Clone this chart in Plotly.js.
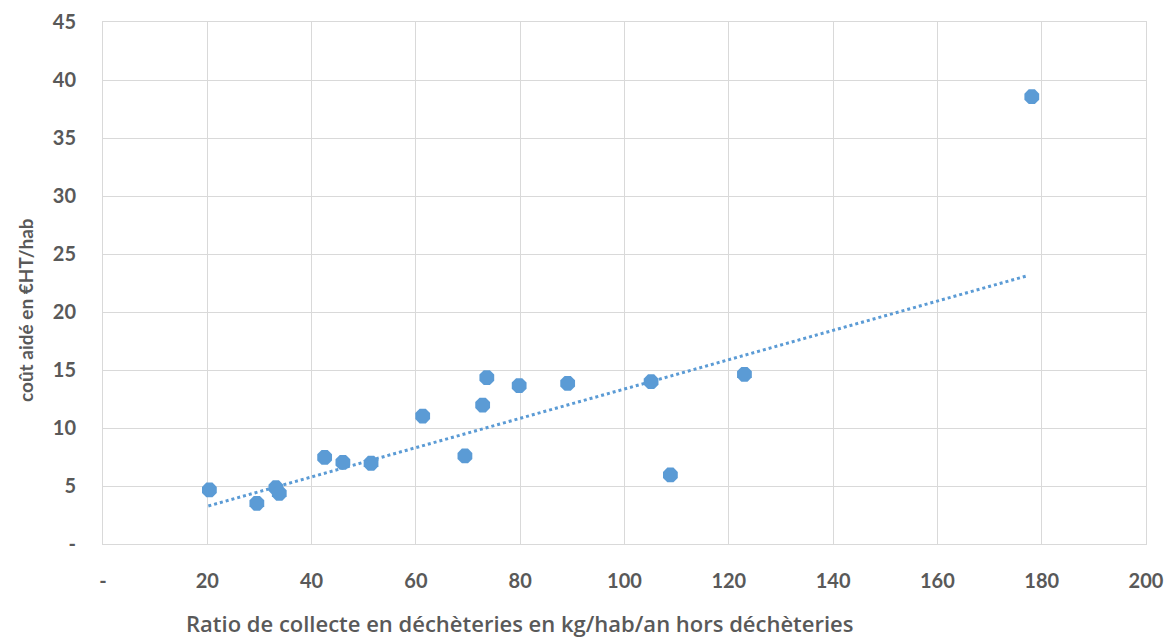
<!DOCTYPE html>
<html>
<head>
<meta charset="utf-8">
<script src="https://cdn.plot.ly/plotly-3.0.1.min.js"></script>
<style>html,body{margin:0;padding:0;background:#fff;}#chart{width:1165px;height:638px;}</style>
</head>
<body>
<div id="chart"></div>
<script>
// Data
const ratioCollecte = [20.4, 29.5, 33.15, 33.8, 42.5, 46.0, 51.4, 61.3, 69.4, 72.8, 73.6, 79.8, 89.1, 105.1, 108.8, 123.0, 178.1];
const coutAide      = [4.66, 3.51, 4.85, 4.37, 7.47, 7.04, 6.96, 11.03, 7.59, 11.98, 14.34, 13.65, 13.85, 13.99, 5.95, 14.63, 38.56];
// Linear trendline end points (as drawn in the reference)
const trendX = [20.2, 177.3];
const trendY = [3.28, 23.13];
// Axis ticks
const xTickVals = [0, 20, 40, 60, 80, 100, 120, 140, 160, 180, 200];
const xTickText = ['-', '20', '40', '60', '80', '100', '120', '140', '160', '180', '200'];
const yTickVals = [0, 5, 10, 15, 20, 25, 30, 35, 40, 45];
const yTickText = ['-', '5', '10', '15', '20', '25', '30', '35', '40', '45'];
const xTitle = 'Ratio de collecte en déchèteries en kg/hab/an hors déchèteries';
const yTitle = 'coût aidé en €HT/hab';

const blue = '#5B9BD5';
const grid = '#d9d9d9';
const txt = '#595959';
const fam = 'Lato, "Open Sans", sans-serif';

const traces = [
  {
    x: trendX, y: trendY, type: 'scatter', mode: 'lines',
    line: {color: blue, width: 3, dash: '3px,3px'},
    hoverinfo: 'skip', showlegend: false
  },
  {
    x: ratioCollecte, y: coutAide, type: 'scatter', mode: 'markers',
    marker: {symbol: 'octagon', size: 16, color: blue},
    showlegend: false
  }
];

const layout = {
  width: 1165, height: 638,
  margin: {l: 103, r: 19, t: 22, b: 94},
  paper_bgcolor: '#fff', plot_bgcolor: '#fff',
  font: {family: fam, color: txt},
  showlegend: false,
  xaxis: {
    range: [0, 200], tickvals: xTickVals, ticktext: xTickText,
    showgrid: true, gridcolor: grid, gridwidth: 1,
    zeroline: false, showline: true, linecolor: grid, linewidth: 1, mirror: true,
    ticks: 'outside', ticklen: 19, tickcolor: 'rgba(0,0,0,0)',
    tickfont: {family: fam, size: 20, color: txt, weight: 'bold'}
  },
  yaxis: {
    range: [0, 45], tickvals: yTickVals, ticktext: yTickText,
    showgrid: true, gridcolor: grid, gridwidth: 1,
    zeroline: false, showline: true, linecolor: grid, linewidth: 1, mirror: true,
    ticks: 'outside', ticklen: 22, tickcolor: 'rgba(0,0,0,0)',
    tickfont: {family: fam, size: 20, color: txt, weight: 'bold'}
  },
  annotations: [
    {
      text: xTitle, xref: 'paper', yref: 'paper', x: (520 - 103) / (1146 - 103), y: 0,
      yshift: -79, xanchor: 'center', yanchor: 'middle', showarrow: false,
      font: {family: '"Open Sans", sans-serif', size: 22, color: txt, weight: 600}
    },
    {
      text: yTitle, xref: 'paper', yref: 'paper', x: 0, xshift: -78,
      y: (544 - 282) / (544 - 22), yshift: -28, xanchor: 'center', yanchor: 'middle', textangle: -90, showarrow: false,
      font: {family: fam, size: 19, color: txt, weight: 'bold'}
    }
  ]
};

Plotly.newPlot('chart', traces, layout, {displayModeBar: false, staticPlot: true});
</script>
</body>
</html>
